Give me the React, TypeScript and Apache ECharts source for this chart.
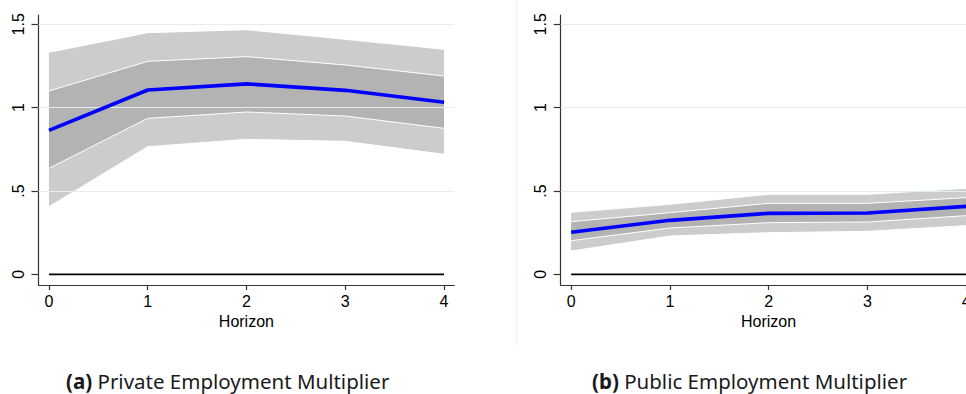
import React, { useEffect, useRef } from "react";
import * as echarts from "echarts";

// Horizons (years after the shock)
const horizons = [0, 1, 2, 3, 4];

// Private employment multiplier: point estimate with 68% and 90% bands
const privEst = [0.864, 1.106, 1.143, 1.104, 1.032];
const privInnerLo = [0.636, 0.936, 0.974, 0.95, 0.876];
const privInnerHi = [1.1, 1.278, 1.306, 1.256, 1.19];
const privOuterLo = [0.406, 0.766, 0.81, 0.798, 0.72];
const privOuterHi = [1.332, 1.45, 1.468, 1.41, 1.35];

// Public employment multiplier
const pubEst = [0.252, 0.324, 0.366, 0.368, 0.408];
const pubInnerLo = [0.202, 0.278, 0.31, 0.314, 0.352];
const pubInnerHi = [0.316, 0.37, 0.426, 0.426, 0.46];
const pubOuterLo = [0.14, 0.23, 0.25, 0.258, 0.292];
const pubOuterHi = [0.372, 0.42, 0.48, 0.48, 0.516];

const yTicks = [0, 0.5, 1, 1.5];
const gridLevels = [0.5, 1, 1.5];
const xLabel = "Horizon";
const captions = [
  { tag: "(a)", text: "Private Employment Multiplier" },
  { tag: "(b)", text: "Public Employment Multiplier" },
];

const AXIS_FONT = "Liberation Sans, Arial, sans-serif";
const CAPTION_FONT = "Noto Sans, sans-serif";

type Panel = {
  est: number[];
  innerLo: number[];
  innerHi: number[];
  outerLo: number[];
  outerHi: number[];
};

const panels: Panel[] = [
  { est: privEst, innerLo: privInnerLo, innerHi: privInnerHi, outerLo: privOuterLo, outerHi: privOuterHi },
  { est: pubEst, innerLo: pubInnerLo, innerHi: pubInnerHi, outerLo: pubOuterLo, outerHi: pubOuterHi },
];

const pairs = (vals: number[]) => horizons.map((h, i) => [h, vals[i]]);

// Shaded confidence band: one polygon through the upper bounds and back along the lower bounds
function bandSeries(lo: number[], hi: number[], fill: string, idx: number) {
  const rows = horizons.map((h, i) => [h, lo[i], hi[i]]);
  return {
    type: "custom",
    xAxisIndex: idx,
    yAxisIndex: idx,
    silent: true,
    z: 2,
    data: rows,
    encode: { x: 0, y: [1, 2] },
    renderItem: (params: any, api: any) => {
      if (params.dataIndex !== 0) return null;
      const upper = rows.map((r) => api.coord([r[0], r[2]]));
      const lower = rows.map((r) => api.coord([r[0], r[1]])).reverse();
      return {
        type: "polygon",
        shape: { points: upper.concat(lower) },
        style: { fill, stroke: "none" },
      };
    },
  };
}

function panelSeries(p: Panel, idx: number): any[] {
  const ax = { xAxisIndex: idx, yAxisIndex: idx };
  const common = { ...ax, type: "line", symbol: "none", silent: true, z: 3 };
  const white = { color: "#ffffff", width: 1 };
  return [
    {
      ...common,
      z: 1,
      data: [],
      markLine: {
        silent: true,
        symbol: "none",
        label: { show: false },
        lineStyle: { color: "#e4eeee", width: 1, type: "solid" },
        data: gridLevels.map((v) => ({ yAxis: v })),
      },
    },
    bandSeries(p.outerLo, p.outerHi, "#cccccc", idx),
    bandSeries(p.innerLo, p.innerHi, "#b3b3b3", idx),
    { ...common, data: pairs(p.outerLo), lineStyle: white },
    { ...common, data: pairs(p.outerHi), lineStyle: white },
    { ...common, data: pairs(p.innerLo), lineStyle: white },
    { ...common, data: pairs(p.innerHi), lineStyle: white },
    {
      ...common,
      z: 4,
      data: [
        [horizons[0], 0],
        [horizons[horizons.length - 1], 0],
      ],
      lineStyle: { color: "#000000", width: 1.6 },
    },
    { ...common, z: 5, data: pairs(p.est), lineStyle: { color: "#0000ff", width: 3.6 } },
  ];
}

const gridLefts = [38.5, 560.7];

export default function App() {
  const ref = useRef<HTMLDivElement>(null);

  useEffect(() => {
    if (!ref.current) return;
    const chart = echarts.init(ref.current, null, { renderer: "svg" });

    const option: any = {
      animation: false,
      backgroundColor: "#ffffff",
      grid: gridLefts.map((left) => ({ left, top: 15, width: 415.8, height: 270 })),
      xAxis: gridLefts.map((_, i) => ({
        type: "value",
        gridIndex: i,
        min: -0.106,
        max: 4.104,
        name: xLabel,
        nameLocation: "middle",
        nameGap: 27,
        nameTextStyle: { color: "#000", fontFamily: AXIS_FONT, fontSize: 16 },
        axisLine: { show: true, onZero: false, lineStyle: { color: "#333", width: 1.2 } },
        axisTick: { show: true, length: 5, customValues: horizons, lineStyle: { color: "#333", width: 1.2 } },
        axisLabel: {
          customValues: horizons,
          color: "#000",
          fontFamily: AXIS_FONT,
          fontSize: 16,
          margin: 8,
        },
        splitLine: { show: false },
      })),
      yAxis: gridLefts.map((_, i) => ({
        type: "value",
        gridIndex: i,
        min: -0.064,
        max: 1.556,
        axisLine: { show: true, onZero: false, lineStyle: { color: "#333", width: 1.2 } },
        axisTick: { show: true, length: 7, customValues: yTicks, lineStyle: { color: "#333", width: 1.2 } },
        axisLabel: {
          customValues: yTicks,
          rotate: 90,
          color: "#000",
          fontFamily: AXIS_FONT,
          fontSize: 16,
          margin: 12,
          formatter: (v: number) => String(v).replace(/^0\./, "."),
        },
        splitLine: { show: false },
      })),
      series: panels.flatMap((p, i) => panelSeries(p, i)),
      graphic: [
        {
          type: "line",
          shape: { x1: 516.5, y1: 0, x2: 516.5, y2: 345 },
          style: { stroke: "#eef2f2", lineWidth: 1 },
          silent: true,
        },
        ...captions.map((c, i) => ({
          type: "text",
          x: [66, 592][i],
          y: 381,
          style: {
            text: "{b|" + c.tag + "} " + c.text,
            fontFamily: CAPTION_FONT,
            fontSize: 20.5,
            fill: "#1a1a1a",
            verticalAlign: "middle",
            rich: {
              b: { fontWeight: "bold", fontFamily: CAPTION_FONT, fontSize: 20.5, fill: "#1a1a1a" },
            },
          },
          silent: true,
        })),
      ],
    };

    chart.setOption(option);
    return () => chart.dispose();
  }, []);

  // The second panel runs past the right edge, so the chart is wider than its visible frame
  return (
    <div style={{ position: "absolute", left: 0, top: 0, width: 966, height: 394, overflow: "hidden" }}>
      <div ref={ref} style={{ width: 1000, height: 394 }} />
    </div>
  );
}
